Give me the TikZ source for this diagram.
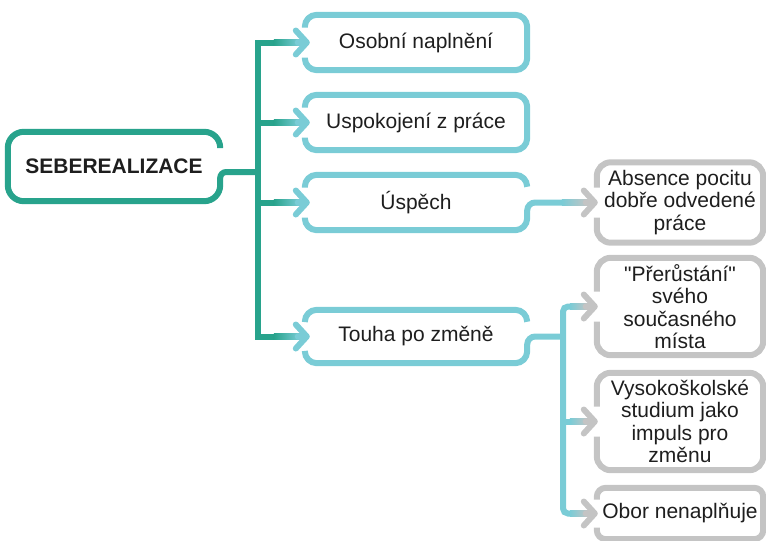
\documentclass[tikz,border=0pt]{standalone}
\usepackage{fontspec}
\setmainfont{Liberation Sans}
\usetikzlibrary{calc}

\definecolor{rootteal}{RGB}{40,163,140}
\definecolor{branchblue}{RGB}{122,204,214}
\definecolor{leafgray}{RGB}{196,196,196}
\definecolor{inkdark}{RGB}{30,30,30}

\tikzset{
  boxtext/.style={inner sep=0pt, text=inkdark, align=center,
    font=\fontsize{21}{22.5}\selectfont},
  rootnode/.style={boxtext, minimum width=212pt,
    font=\fontsize{21}{22.5}\selectfont\bfseries},
  midnode/.style={boxtext, minimum width=222pt},
  leafnode/.style={boxtext, minimum width=166pt},
  tealline/.style={draw=rootteal, line width=6pt},
  blueline/.style={draw=branchblue, line width=6pt},
  grayline/.style={draw=leafgray, line width=6pt},
}

% straight double quote, set as a glyph so no ligature mapping applies
\newcommand\sq{\XeTeXglyph\XeTeXcharglyph"22\relax}

% fading end of a connector plus its open chevron head
% #1 tip, #2 start colour, #3 end colour, #4 fade length
\newcommand\fadetip[4]{%
  \shade[left color=#2, right color=#3]
    ($(#1)+(-#4,-3)$) rectangle ($(#1)+(-7,3)$);
  \draw[draw=#3, line width=6pt, line cap=round, line join=round]
    ($(#1)+(-11,-12)$) -- (#1) -- ($(#1)+(-11,12)$)
    ($(#1)+(-9,0)$) -- (#1);
}

\begin{document}
\begin{tikzpicture}[x=1pt, y=-1pt]
\useasboundingbox (0,0) rectangle (766,541);

% ---- nodes
\node[rootnode, minimum height=69pt] (root) at (114,166.5) {SEBEREALIZACE};

\node[midnode, minimum height=55pt] (osobni)     at (416,42.5)  {Osobní naplnění};
\node[midnode, minimum height=55pt] (uspokojeni) at (416,122.5) {Uspokojení z práce};
\node[midnode, minimum height=55pt] (uspech)     at (416,202.5) {Úspěch};
\node[midnode, minimum height=53pt] (touha)      at (416,336.5) {Touha po změně};

\node[leafnode, minimum height=80pt] (absence)    at (680,202.5) {Absence pocitu\\dobře odvedené\\práce};
\node[leafnode, minimum height=97pt] (prerustani) at (680,306.5) {\sq Přerůstání\sq\\svého\\současného\\místa};
\node[leafnode, minimum height=97pt] (vs)         at (680,421.5) {Vysokoškolské\\studium jako\\impuls pro\\změnu};
\node[leafnode, minimum height=51pt] (obor)       at (680,513.5) {Obor nenaplňuje};

% ---- junction points and arrow tips
\coordinate (trunk) at (258,172);
\coordinate (leaftrunk) at (563,336.5);
\coordinate (tip1) at ($(osobni.west)+(2,0)$);
\coordinate (tip2) at ($(uspokojeni.west)+(2,0)$);
\coordinate (tip3) at ($(uspech.west)+(2,0)$);
\coordinate (tip4) at ($(touha.west)+(2,0)$);
\coordinate (tipA) at ($(absence.west)+(-2,0)$);
\coordinate (tipP) at ($(prerustani.west)+(-2,0)$);
\coordinate (tipV) at ($(vs.west)+(-2,0)$);
\coordinate (tipO) at ($(obor.west)+(-2,0)$);

% ---- root frame and its outgoing line
\draw[tealline, rounded corners=16pt]
  ([yshift=18.5pt]root.east) |- (root.north west) |- (root.south east)
  [rounded corners=6pt] |- (trunk);

% ---- main trunk
\draw[tealline] ($(tip1)+(-32,0)$) -| (trunk) |- ($(tip4)+(-32,0)$);
\draw[tealline] (trunk |- tip2) -- ($(tip2)+(-32,0)$);
\draw[tealline] (trunk |- tip3) -- ($(tip3)+(-32,0)$);
\foreach \t in {tip1,tip2,tip3,tip4}
  \fadetip{\t}{rootteal}{branchblue}{33};

% ---- second-level frames
\foreach \b in {osobni,uspokojeni}
  \draw[blueline, rounded corners=12pt]
    ([yshift=-15pt]\b.west) |- (\b.south east) |- (\b.north west)
    -- ([yshift=15pt]\b.west);

\foreach \b in {uspech,touha}
  \draw[blueline, rounded corners=12pt]
    ([yshift=15pt]\b.west) |- (\b.north east) -- ([yshift=-12pt]\b.north east);

\draw[blueline, rounded corners=12pt]
  ([yshift=-15pt]uspech.west) |- (uspech.south east)
  [rounded corners=8pt] |- ($(tipA)+(-32,0)$);
\fadetip{tipA}{branchblue}{leafgray}{33};

\draw[blueline, rounded corners=12pt]
  ([yshift=-15pt]touha.west) |- (touha.south east)
  [rounded corners=8pt] |- (leaftrunk);

% ---- leaf trunk
\draw[blueline, rounded corners=5pt]
  ($(tipP)+(-24,0)$) -| (leaftrunk) |- ($(tipO)+(-24,0)$);
\draw[blueline] (leaftrunk |- tipV) -- ($(tipV)+(-24,0)$);
\foreach \t in {tipP,tipV,tipO}
  \fadetip{\t}{branchblue}{leafgray}{25};

% ---- leaf frames
\foreach \b in {absence,prerustani,vs}
  \draw[grayline, rounded corners=14pt]
    ([yshift=-15pt]\b.west) |- (\b.south east) |- (\b.north west)
    -- ([yshift=15pt]\b.west);
\draw[grayline, rounded corners=9pt]
  ([yshift=-14pt]obor.west) |- (obor.south east) |- (obor.north west)
  -- ([yshift=14pt]obor.west);
\end{tikzpicture}
\end{document}
